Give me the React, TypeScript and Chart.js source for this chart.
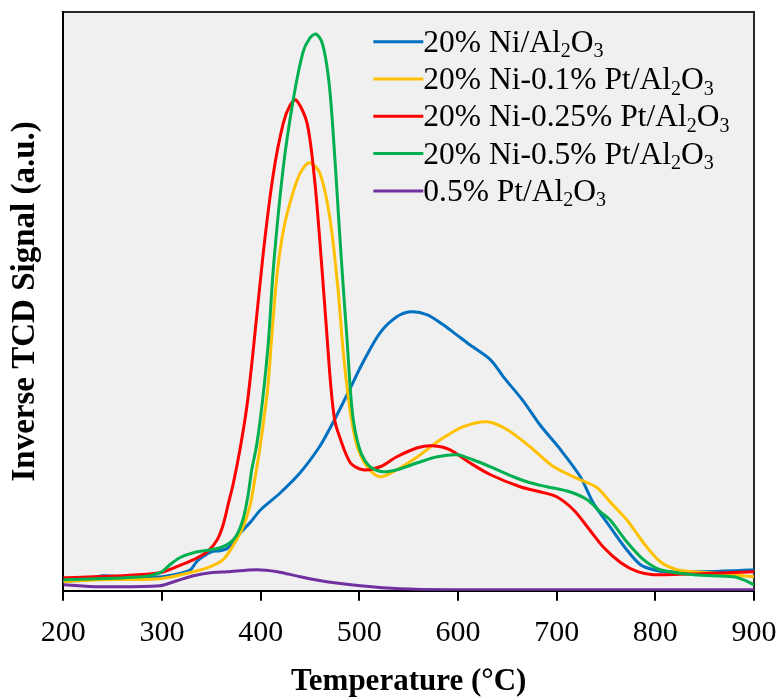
import React, { useEffect, useRef } from "react";
import { Chart, registerables } from "chart.js";

Chart.register(...registerables);

// Temperature (°C) / inverse TCD signal (a.u.) readings for each sample
const BLUE_T = [200, 222, 240, 258, 300, 321, 329, 335, 340, 350, 359, 367, 375, 390, 400, 420, 440, 459, 470, 480, 491, 504, 521, 538, 552, 569, 585, 596, 612, 633, 646, 666, 683, 704, 724, 737, 754, 771, 785, 798, 812, 846, 880, 900];
const BLUE_V = [9, 11, 15, 14, 14, 18, 21, 29, 33, 39, 40, 43, 53, 69, 81, 98, 118, 143, 162, 181, 203, 229, 258, 274, 279, 276, 266, 258, 246, 231, 214, 190, 166, 141, 114, 88, 64, 41, 26, 21, 19, 19, 20, 21];

const YELLOW_T = [200, 237, 298, 332, 349, 362, 372, 381, 389, 394, 399, 407, 411, 414, 417, 422, 427, 437, 444, 450, 460, 470, 478, 484, 491, 498, 508, 521, 538, 559, 582, 605, 630, 650, 673, 697, 724, 741, 754, 771, 788, 805, 822, 839, 866, 900];
const YELLOW_V = [9, 11, 12, 19, 24, 31, 45, 61, 84, 111, 141, 201, 251, 288, 320, 355, 378, 411, 424, 428, 418, 374, 306, 236, 178, 144, 124, 114, 121, 134, 151, 164, 169, 161, 144, 124, 111, 103, 89, 71, 48, 29, 21, 19, 17, 14];

const RED_T = [200, 258, 298, 315, 332, 346, 356, 362, 367, 372, 379, 386, 392, 403, 413, 423, 430, 436, 447, 455, 462, 467, 471, 475, 480, 491, 504, 521, 538, 559, 574, 592, 612, 633, 663, 683, 700, 717, 731, 747, 765, 782, 798, 846, 900];
const RED_V = [13, 15, 18, 24, 31, 39, 51, 66, 86, 106, 141, 184, 236, 341, 418, 468, 486, 491, 468, 408, 324, 258, 206, 171, 154, 128, 121, 124, 134, 143, 145, 141, 128, 116, 104, 99, 94, 81, 64, 44, 28, 19, 16, 17, 19];

const GREEN_T = [200, 281, 298, 308, 318, 332, 349, 359, 369, 376, 382, 387, 391, 396, 402, 408, 413, 423, 433, 443, 450, 456, 462, 467, 471, 476, 480, 484, 488, 491, 494, 498, 503, 511, 524, 538, 559, 579, 599, 615, 633, 656, 673, 690, 713, 731, 744, 754, 771, 788, 805, 839, 879, 889, 900];
const GREEN_V = [11, 14, 18, 26, 33, 38, 41, 43, 48, 56, 71, 94, 121, 146, 191, 251, 324, 424, 491, 539, 553, 557, 549, 526, 491, 421, 358, 300, 245, 200, 170, 150, 135, 124, 119, 121, 128, 134, 136, 131, 124, 114, 108, 104, 99, 91, 79, 71, 49, 31, 21, 16, 14, 11, 6];

const PURPLE_T = [200, 237, 298, 315, 332, 349, 366, 396, 417, 440, 467, 501, 541, 592, 693, 846, 900];
const PURPLE_V = [6, 4, 5, 10, 15, 18, 19, 21, 19, 14, 9, 5, 2, 1, 1, 1, 1];

const X_TICKS = [200, 300, 400, 500, 600, 700, 800, 900];

// Legend label parts: [text, isSubscript]
const LABELS: [string, boolean][][] = [
  [["20% Ni/Al", false], ["2", true], ["O", false], ["3", true]],
  [["20% Ni-0.1% Pt/Al", false], ["2", true], ["O", false], ["3", true]],
  [["20% Ni-0.25% Pt/Al", false], ["2", true], ["O", false], ["3", true]],
  [["20% Ni-0.5% Pt/Al", false], ["2", true], ["O", false], ["3", true]],
  [["0.5% Pt/Al", false], ["2", true], ["O", false], ["3", true]],
];

const COLORS = ["#0070C0", "#FFC000", "#FF0000", "#00B050", "#7030A0"];

const SERIES_T = [BLUE_T, YELLOW_T, RED_T, GREEN_T, PURPLE_T];
const SERIES_V = [BLUE_V, YELLOW_V, RED_V, GREEN_V, PURPLE_V];

const FONT = "'Liberation Serif', 'Times New Roman', serif";

const bgPlugin = {
  id: "plotBg",
  beforeDraw(chart: any) {
    const { ctx, chartArea: a } = chart;
    ctx.save();
    ctx.fillStyle = "#f0f0f0";
    ctx.fillRect(a.left, a.top, a.right - a.left, a.bottom - a.top);
    ctx.strokeStyle = "#2a2a2a";
    ctx.lineWidth = 2;
    ctx.beginPath();
    ctx.moveTo(a.left, a.top);
    ctx.lineTo(a.right, a.top);
    ctx.lineTo(a.right, a.bottom);
    ctx.stroke();
    ctx.restore();
  },
};

const legendPlugin = {
  id: "customLegend",
  afterDatasetsDraw(chart: any) {
    const { ctx, chartArea: a } = chart;
    const lineX0 = a.left + 310;
    const lineX1 = a.left + 360;
    const y0 = a.top + 29.7;
    const step = 37.3;
    ctx.save();
    LABELS.forEach((parts, i) => {
      const y = y0 + i * step;
      ctx.strokeStyle = COLORS[i];
      ctx.lineWidth = 3;
      ctx.beginPath();
      ctx.moveTo(lineX0, y);
      ctx.lineTo(lineX1, y);
      ctx.stroke();
      let x = lineX1;
      ctx.fillStyle = "#000";
      ctx.textBaseline = "alphabetic";
      ctx.textAlign = "left";
      parts.forEach(([txt, sub]) => {
        ctx.font = sub ? `20px ${FONT}` : `31.5px ${FONT}`;
        ctx.fillText(txt, x, y + (sub ? 15.5 : 10));
        x += ctx.measureText(txt).width;
      });
    });
    ctx.restore();
  },
};

export default function App() {
  const ref = useRef<HTMLCanvasElement | null>(null);

  useEffect(() => {
    if (!ref.current) return;
    const datasets = SERIES_T.map((ts, i) => ({
      label: LABELS[i].map((p) => p[0]).join(""),
      data: ts.map((t, k) => ({ x: t, y: SERIES_V[i][k] })),
      borderColor: COLORS[i],
      backgroundColor: COLORS[i],
      borderWidth: 3,
      pointRadius: 0,
      tension: 0.3,
      order: 4 - i,
    }));
    const chart = new Chart(ref.current, {
      type: "line",
      data: { datasets },
      plugins: [bgPlugin, legendPlugin],
      options: {
        responsive: false,
        animation: false,
        devicePixelRatio: 1,
        layout: { padding: { left: 0, top: 12, right: 26, bottom: 0 } },
        plugins: { legend: { display: false }, tooltip: { enabled: false } },
        scales: {
          x: {
            type: "linear",
            min: 200,
            max: 900,
            afterBuildTicks: (scale: any) => {
              scale.ticks = X_TICKS.map((v) => ({ value: v }));
            },
            afterFit: (scale: any) => {
              scale.height = 106.3;
            },
            ticks: {
              color: "#000",
              font: { family: FONT, size: 30, lineHeight: 1.93 },
              padding: 3,
              maxRotation: 0,
              autoSkip: false,
            },
            grid: {
              drawOnChartArea: false,
              drawTicks: true,
              tickLength: 10,
              color: "#000",
              lineWidth: 2,
            },
            border: { display: true, color: "#000", width: 2 },
            title: {
              display: true,
              text: "Temperature (°C)",
              color: "#000",
              font: { family: FONT, size: 31, weight: "bold", lineHeight: 1.0 },
              padding: { top: 0, bottom: 0 },
            },
          },
          y: {
            type: "linear",
            min: 0,
            max: 579,
            afterFit: (scale: any) => {
              scale.width = 63.3;
            },
            ticks: { display: false },
            grid: { display: false, drawTicks: false },
            border: { display: true, color: "#000", width: 2 },
            title: {
              display: true,
              text: "Inverse TCD Signal (a.u.)",
              color: "#000",
              font: { family: FONT, size: 33, weight: "bold", lineHeight: 1.0 },
              padding: { top: 8.5, bottom: 0 },
            },
          },
        },
      },
    });
    return () => chart.destroy();
  }, []);

  return (
    <div style={{ position: "absolute", left: 0, top: 0, width: 780, height: 697, background: "#fff" }}>
      <canvas ref={ref} width={780} height={697} style={{ display: "block" }} />
    </div>
  );
}
